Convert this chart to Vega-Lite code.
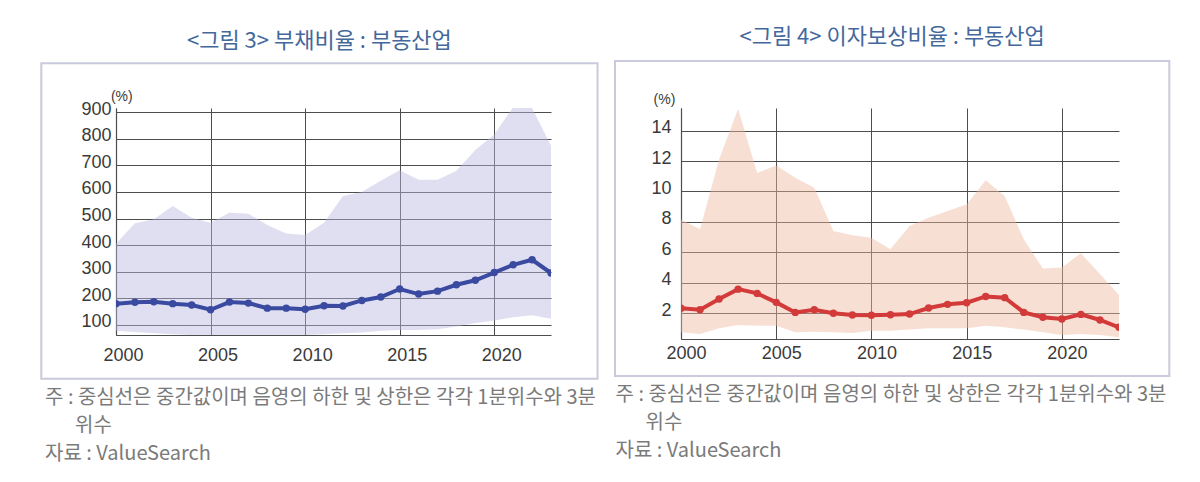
{
  "$schema": "https://vega.github.io/schema/vega-lite/v6.json",
  "padding": {"left": 40, "top": 25, "right": 0, "bottom": 20},
  "spacing": 15,
  "config": {
    "view": {"stroke": null},
    "font": "Noto Sans CJK KR",
    "axis": {
      "labelFont": "Liberation Sans",
      "labelFontSize": 18,
      "labelColor": "#3a3a3a",
      "labelOverlap": false,
      "labelFlush": false,
      "tickCount": 30,
      "gridColor": "#4d4d4d",
      "gridWidth": 1,
      "domainColor": "#4d4d4d",
      "domainWidth": 1.2,
      "ticks": false,
      "titleFont": "Noto Sans CJK KR",
      "titleFontWeight": "normal"
    }
  },
  "hconcat": [
    {
      "width": 435,
      "height": 227,
      "title": {
        "text": "<그림 3> 부채비율 : 부동산업",
        "font": "Noto Sans CJK KR",
        "fontSize": 22,
        "fontWeight": 400,
        "color": "#44689c",
        "anchor": "middle",
        "frame": "bounds",
        "baseline": "bottom",
        "offset": -12.5
      },
      "data": {
        "values": [
          {"year": 2000, "q1": 78, "med": 180, "q3": 405},
          {"year": 2001, "q1": 73, "med": 185, "q3": 482},
          {"year": 2002, "q1": 69, "med": 187, "q3": 497},
          {"year": 2003, "q1": 65, "med": 180, "q3": 547},
          {"year": 2004, "q1": 62, "med": 175, "q3": 503},
          {"year": 2005, "q1": 62, "med": 157, "q3": 484},
          {"year": 2006, "q1": 60, "med": 186, "q3": 522},
          {"year": 2007, "q1": 62, "med": 182, "q3": 518},
          {"year": 2008, "q1": 59, "med": 163, "q3": 476},
          {"year": 2009, "q1": 60, "med": 163, "q3": 444},
          {"year": 2010, "q1": 62, "med": 159, "q3": 438},
          {"year": 2011, "q1": 65, "med": 172, "q3": 484},
          {"year": 2012, "q1": 69, "med": 171, "q3": 585},
          {"year": 2013, "q1": 71, "med": 192, "q3": 600},
          {"year": 2014, "q1": 78, "med": 205, "q3": 642},
          {"year": 2015, "q1": 81, "med": 235, "q3": 682},
          {"year": 2016, "q1": 81, "med": 216, "q3": 646},
          {"year": 2017, "q1": 84, "med": 227, "q3": 646},
          {"year": 2018, "q1": 94, "med": 251, "q3": 680},
          {"year": 2019, "q1": 107, "med": 268, "q3": 758},
          {"year": 2020, "q1": 117, "med": 297, "q3": 816},
          {"year": 2021, "q1": 129, "med": 326, "q3": 919},
          {"year": 2022, "q1": 136, "med": 345, "q3": 916},
          {"year": 2023, "q1": 123, "med": 295, "q3": 774}
        ]
      },
      "layer": [
        {
          "data": {"values": [{}]},
          "mark": {"type": "rect", "filled": false, "stroke": "#c9cadb", "strokeWidth": 2, "clip": false},
          "encoding": {
            "x": {"datum": 1996.05, "type": "quantitative"},
            "x2": {"datum": 2025.46},
            "y": {"datum": 1084.5, "type": "quantitative"},
            "y2": {"datum": -102.7}
          }
        },
        {
          "mark": {"type": "area", "color": "#b8b8e0", "opacity": 0.45, "clip": true},
          "encoding": {
            "x": {
              "field": "year", "type": "quantitative",
              "scale": {"domain": [2000, 2023], "nice": false, "zero": false},
              "axis": {
                "values": [2000, 2005, 2010, 2015, 2020],
                "tickCount": 30,
                "format": "d",
                "grid": true,
                "labelPadding": 11,
                "labelOffset": 7,
                "title": ["주 : 중심선은 중간값이며 음영의 하한 및 상한은 각각 1분위수와 3분", "\u200b\u3000\u2002위수", "자료 : ValueSearch"],
                "titleFontSize": 20,
                "titleColor": "#7a7a7a",
                "titleAlign": "left",
                "titleBaseline": "alphabetic",
                "titleLineHeight": 28,
                "titleX": -71.5,
                "titleY": 68
              }
            },
            "y": {
              "field": "q3", "type": "quantitative",
              "scale": {"domain": [62, 916], "nice": false, "zero": false},
              "axis": {
                "values": [100, 200, 300, 400, 500, 600, 700, 800, 900],
                "tickCount": 30,
                "format": "d",
                "grid": true,
                "labelPadding": 5,
                "labelBaseline": "alphabetic",
                "labelOffset": 2,
                "title": "(%)",
                "titleAngle": 0,
                "titleFont": "Liberation Sans",
                "titleFontSize": 14,
                "titleColor": "#3a3a3a",
                "titleAlign": "center",
                "titleBaseline": "middle",
                "titleX": 5.3,
                "titleY": -11.7
              }
            },
            "y2": {"field": "q1"}
          }
        },
        {
          "mark": {
            "type": "line", "color": "#3a4aa0", "strokeWidth": 4, "clip": true,
            "point": {"filled": true, "size": 55, "color": "#3a4aa0"}
          },
          "encoding": {
            "x": {"field": "year", "type": "quantitative"},
            "y": {"field": "med", "type": "quantitative"}
          }
        }
      ]
    },
    {
      "width": 438,
      "height": 231,
      "title": {
        "text": "<그림 4> 이자보상비율 : 부동산업",
        "font": "Noto Sans CJK KR",
        "fontSize": 22,
        "fontWeight": 400,
        "color": "#44689c",
        "anchor": "middle",
        "frame": "bounds",
        "baseline": "bottom",
        "offset": -11
      },
      "data": {
        "values": [
          {"year": 2000, "q1": 0.73, "med": 2.31, "q3": 8.16},
          {"year": 2001, "q1": 0.62, "med": 2.22, "q3": 7.51},
          {"year": 2002, "q1": 0.99, "med": 2.92, "q3": 12.1},
          {"year": 2003, "q1": 1.21, "med": 3.57, "q3": 15.44},
          {"year": 2004, "q1": 1.17, "med": 3.29, "q3": 11.22},
          {"year": 2005, "q1": 1.17, "med": 2.7, "q3": 11.7},
          {"year": 2006, "q1": 0.73, "med": 2.04, "q3": 10.9},
          {"year": 2007, "q1": 0.77, "med": 2.22, "q3": 10.24},
          {"year": 2008, "q1": 0.73, "med": 1.98, "q3": 7.4},
          {"year": 2009, "q1": 0.69, "med": 1.87, "q3": 7.11},
          {"year": 2010, "q1": 0.84, "med": 1.85, "q3": 6.96},
          {"year": 2011, "q1": 0.84, "med": 1.89, "q3": 6.2},
          {"year": 2012, "q1": 0.91, "med": 1.93, "q3": 7.73},
          {"year": 2013, "q1": 0.99, "med": 2.33, "q3": 8.27},
          {"year": 2014, "q1": 0.99, "med": 2.57, "q3": 8.71},
          {"year": 2015, "q1": 0.99, "med": 2.68, "q3": 9.15},
          {"year": 2016, "q1": 1.17, "med": 3.09, "q3": 10.74},
          {"year": 2017, "q1": 1.06, "med": 3.01, "q3": 9.69},
          {"year": 2018, "q1": 0.91, "med": 2.04, "q3": 6.85},
          {"year": 2019, "q1": 0.73, "med": 1.72, "q3": 4.93},
          {"year": 2020, "q1": 0.56, "med": 1.61, "q3": 5.0},
          {"year": 2021, "q1": 0.62, "med": 1.91, "q3": 5.93},
          {"year": 2022, "q1": 0.56, "med": 1.54, "q3": 4.56},
          {"year": 2023, "q1": 0.4, "med": 1.06, "q3": 3.18}
        ]
      },
      "layer": [
        {
          "data": {"values": [{}]},
          "mark": {"type": "rect", "filled": false, "stroke": "#c9cadb", "strokeWidth": 2, "clip": false},
          "encoding": {
            "x": {"datum": 1996.535, "type": "quantitative"},
            "x2": {"datum": 2025.643},
            "y": {"datum": 18.583, "type": "quantitative"},
            "y2": {"datum": -2.145}
          }
        },
        {
          "mark": {"type": "area", "color": "#f0b8a0", "opacity": 0.45, "clip": true},
          "encoding": {
            "x": {
              "field": "year", "type": "quantitative",
              "scale": {"domain": [2000, 2023], "nice": false, "zero": false},
              "axis": {
                "values": [2000, 2005, 2010, 2015, 2020],
                "tickCount": 30,
                "format": "d",
                "grid": true,
                "labelPadding": 5,
                "labelOffset": 5,
                "title": ["주 : 중심선은 중간값이며 음영의 하한 및 상한은 각각 1분위수와 3분", "\u200b\u3000\u2002위수", "자료 : ValueSearch"],
                "titleFontSize": 20,
                "titleColor": "#7a7a7a",
                "titleAlign": "left",
                "titleBaseline": "alphabetic",
                "titleLineHeight": 28,
                "titleX": -66,
                "titleY": 61.5
              }
            },
            "y": {
              "field": "q3", "type": "quantitative",
              "scale": {"domain": [0.29, 15.49], "nice": false, "zero": false},
              "axis": {
                "values": [2, 4, 6, 8, 10, 12, 14],
                "tickCount": 30,
                "format": "d",
                "grid": true,
                "labelPadding": 10,
                "labelBaseline": "alphabetic",
                "labelOffset": 2,
                "title": "(%)",
                "titleAngle": 0,
                "titleFont": "Liberation Sans",
                "titleFontSize": 14,
                "titleColor": "#3a3a3a",
                "titleAlign": "center",
                "titleBaseline": "middle",
                "titleX": -17,
                "titleY": -8.5
              }
            },
            "y2": {"field": "q1"}
          }
        },
        {
          "mark": {
            "type": "line", "color": "#d33a3a", "strokeWidth": 4, "clip": true,
            "point": {"filled": true, "size": 55, "color": "#d33a3a"}
          },
          "encoding": {
            "x": {"field": "year", "type": "quantitative"},
            "y": {"field": "med", "type": "quantitative"}
          }
        }
      ]
    }
  ]
}
